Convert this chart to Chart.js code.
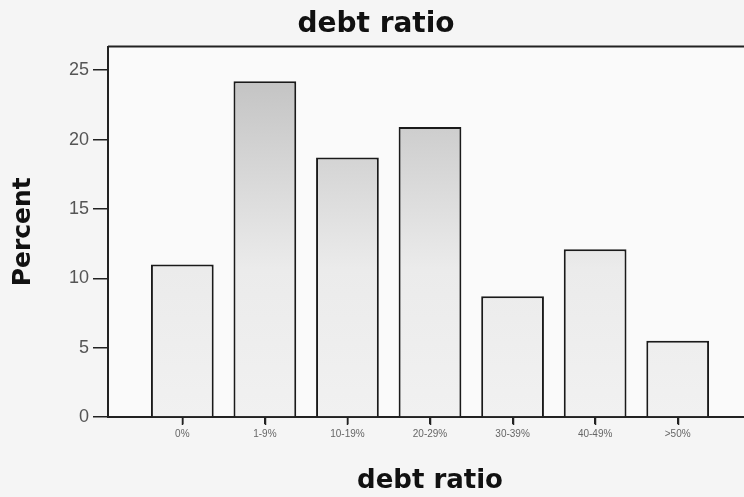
<!DOCTYPE html>
<html lang="en">
<head>
    <meta charset="UTF-8">
    <title>debt ratio</title>
    <style>
        html, body {
            margin: 0;
            padding: 0;
            overflow: hidden;
            background: #f5f5f5;
        }
        #chartBox {
            width: 800px;
            height: 497px;
        }
    </style>
    <script src="https://cdn.jsdelivr.net/npm/chart.js"></script>
</head>
<body>
    <div id="chartBox">
        <canvas id="debtChart"></canvas>
    </div>

    <script>
        // categories and percent values
        const categories = ["0%", "1-9%", "10-19%", "20-29%", "30-39%", "40-49%", ">50%"];
        const percents = [11.0, 24.2, 18.7, 20.9, 8.7, 12.1, 5.5];
        const yTicks = [0, 5, 10, 15, 20, 25];

        // plot background, top/right frame line, x tick marks under the bars
        const framePlugin = {
            id: 'frame',
            beforeDraw(chart) {
                const c = chart.ctx, a = chart.chartArea;
                c.save();
                c.fillStyle = '#f5f5f5';
                c.fillRect(0, 0, chart.width, chart.height);
                c.fillStyle = '#fafafa';
                c.fillRect(a.left, a.top, a.right - a.left, a.bottom - a.top);
                c.restore();
            },
            afterDraw(chart) {
                const c = chart.ctx, a = chart.chartArea;
                const xs = chart.scales.x;
                c.save();
                c.strokeStyle = '#222';
                c.lineWidth = 2;
                c.beginPath();
                c.moveTo(a.left, a.top);
                c.lineTo(a.right, a.top);
                c.lineTo(a.right, a.bottom);
                c.stroke();
                c.lineWidth = 1.5;
                c.beginPath();
                categories.forEach((cat, i) => {
                    const px = Math.round(xs.getPixelForValue(i)) + 0.5;
                    c.moveTo(px, a.bottom);
                    c.lineTo(px, a.bottom + 8);
                });
                c.stroke();
                c.restore();
            }
        };

        function barFill(context) {
            const a = context.chart.chartArea;
            if (!a) return '#e8e8e8';
            const g = context.chart.ctx.createLinearGradient(0, a.top, 0, a.bottom);
            g.addColorStop(0, '#bdbdbd');
            g.addColorStop(0.6, '#ebebeb');
            g.addColorStop(1, '#f1f1f1');
            return g;
        }

        const ctx = document.getElementById('debtChart').getContext('2d');
        new Chart(ctx, {
            type: 'bar',
            data: {
                datasets: [{
                    label: 'Percent',
                    data: percents.map((v, i) => ({ x: i, y: v })),
                    backgroundColor: barFill,
                    borderColor: '#1a1a1a',
                    borderWidth: 2,
                    categoryPercentage: 1,
                    barPercentage: 0.76
                }]
            },
            options: {
                responsive: true,
                maintainAspectRatio: false,
                animation: false,
                layout: { padding: { left: 0, right: 48, top: 0, bottom: 0 } },
                plugins: {
                    legend: { display: false },
                    tooltip: { enabled: false },
                    title: {
                        display: true,
                        text: 'debt ratio',
                        color: '#111',
                        font: { family: 'DejaVu Sans', size: 28, weight: 'bold' },
                        padding: { top: 8, bottom: 5 }
                    }
                },
                scales: {
                    x: {
                        type: 'linear',
                        min: -0.9,
                        max: 6.9,
                        offset: false,
                        afterFit(scale) { scale.height = 80; },
                        afterBuildTicks(scale) {
                            scale.ticks = categories.map((c, i) => ({ value: i }));
                        },
                        ticks: {
                            autoSkip: false,
                            maxRotation: 0,
                            padding: 4,
                            color: '#666',
                            font: { family: 'Liberation Sans', size: 10 },
                            callback: (v) => categories[v]
                        },
                        grid: {
                            offset: false,
                            drawOnChartArea: false,
                            tickLength: 7,
                            color: '#222',
                            lineWidth: 1.5
                        },
                        border: { color: '#222', width: 2 },
                        title: {
                            display: true,
                            text: 'debt ratio',
                            color: '#111',
                            font: { family: 'DejaVu Sans', size: 26, weight: 'bold' },
                            padding: { top: 0, bottom: 0 }
                        }
                    },
                    y: {
                        min: 0,
                        max: 26.7,
                        afterFit(scale) { scale.width = 108; },
                        afterBuildTicks(scale) {
                            scale.ticks = yTicks.map(v => ({ value: v }));
                        },
                        ticks: {
                            padding: 4,
                            color: '#555',
                            font: { family: 'Liberation Sans', size: 18 }
                        },
                        grid: {
                            drawOnChartArea: false,
                            tickLength: 15,
                            color: '#222',
                            lineWidth: 1.5
                        },
                        border: { color: '#222', width: 2 },
                        title: {
                            display: true,
                            text: 'Percent',
                            color: '#111',
                            font: { family: 'DejaVu Sans', size: 25, weight: 'bold' },
                            padding: { top: 8, bottom: 0 }
                        }
                    }
                }
            },
            plugins: [framePlugin]
        });
    </script>
</body>
</html>
